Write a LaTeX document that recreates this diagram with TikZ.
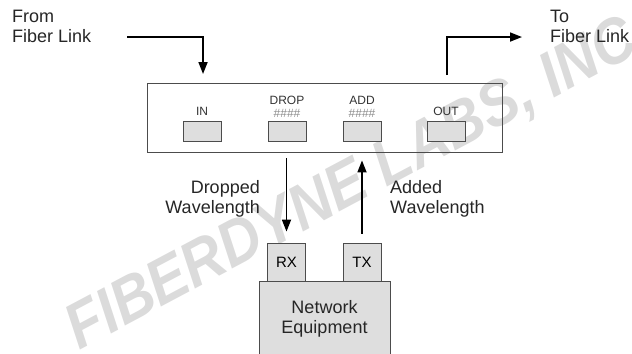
\documentclass[tikz,border=0pt]{standalone}
\usepackage{fontspec}
\setmainfont{Liberation Sans}
\usetikzlibrary{arrows.meta,calc}
\begin{document}
\begin{tikzpicture}[x=1bp,y=-1bp,
  lbl/.style={inner sep=0pt,font=\fontsize{18bp}{20bp}\selectfont,text=black!85},
  small/.style={inner sep=0pt,font=\fontsize{12bp}{13bp}\selectfont,text=black!80},
  hash/.style={inner sep=0pt,font=\fontsize{12bp}{13bp}\selectfont,text=black!45},
  port/.style={draw=black!70,line width=0.9bp,fill=black!13,minimum width=38bp,minimum height=20bp,inner sep=0pt},
  xcvr/.style={draw=black!70,line width=0.9bp,fill=black!13,minimum width=38bp,minimum height=38bp,inner sep=0pt,font=\fontsize{15bp}{16bp}\selectfont},
  arr/.style={line width=1.7bp,-{Triangle[length=12bp,width=9bp]}}]
\useasboundingbox (0,0) rectangle (632,353);
% watermark
\node[rotate=28,xscale=0.9,text=black!14,inner sep=0pt,font=\fontsize{64bp}{64bp}\selectfont\bfseries\itshape] (wm) at (352,186) {FIBERDYNE LABS, INC};
% main box
\node[draw=black!70,line width=0.9bp,minimum width=355bp,minimum height=69bp,inner sep=0pt] (mux) at (324.5,117.5) {};
\node[port] (in) at (202,131) {};
\node[port] (drop) at (287,131) {};
\node[port] (add) at (362,131) {};
\node[port] (out) at (446,131) {};
\node[small] (inl) at (202,111) {IN};
\node[small] (dropl) at (287,100) {DROP};
\node[hash] (droph) at (287,113) {\#\#\#\#};
\node[small] (addl) at (362,100) {ADD};
\node[hash] (addh) at (362,113) {\#\#\#\#};
\node[small] (outl) at (446,111) {OUT};
% equipment
\node[xcvr] (rx) at (286.5,262) {RX};
\node[xcvr] (tx) at (362,262) {TX};
\draw[draw=black!70,line width=0.9bp,fill=black!13] (259,362) -- (259,281) -- (390,281) -- (390,362);
\node[lbl,align=center] (ne) at (324.5,319) {Network\\Equipment};
% labels
\node[lbl,align=left,anchor=north west] (from) at (12,10) {From\\Fiber Link};
\node[lbl,align=left,anchor=north west] (to) at (550,10) {To\\Fiber Link};
\node[lbl,align=right,anchor=north east] (dropt) at (260,180) {Dropped\\Wavelength};
\node[lbl,align=left,anchor=north west] (addt) at (390,180) {Added\\Wavelength};
% connectors
\coordinate (fs) at (127,37);
\coordinate (fe) at (203,74);
\draw[arr] (fs) -| (fe);
\coordinate (os) at (447,75);
\coordinate (oe) at (522,37);
\draw[arr] (os) |- (oe);
\draw[arr,shorten <=6bp,shorten >=11bp] (mux.south -| rx) -- (rx.north);
\draw[arr,shorten <=9bp,shorten >=8bp] (tx.north) -- (mux.south -| tx);
\end{tikzpicture}
\end{document}
